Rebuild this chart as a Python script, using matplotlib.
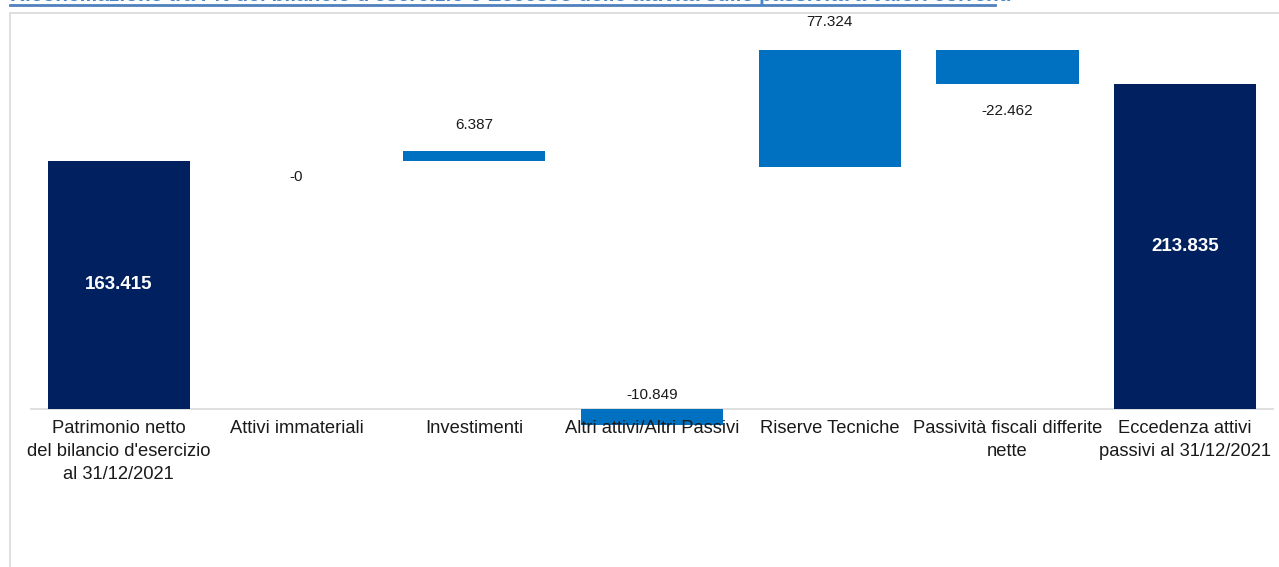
import matplotlib
matplotlib.use("Agg")
import matplotlib.pyplot as plt
from matplotlib.patches import Rectangle
from matplotlib.lines import Line2D

plt.rcParams["font.family"] = ["Liberation Sans", "DejaVu Sans"]

# --- data -------------------------------------------------------------
title = ("Riconciliazione tra PN del bilancio d'esercizio e Eccesso delle "
         "attività sulle passività a valori correnti")
categories = [
    "Patrimonio netto\ndel bilancio d'esercizio\nal 31/12/2021",
    "Attivi immateriali",
    "Investimenti",
    "Altri attivi/Altri Passivi",
    "Riserve Tecniche",
    "Passività fiscali differite\nnette",
    "Eccedenza attivi\npassivi al 31/12/2021",
]
values = [163.415, -0.0, 6.387, -10.849, 77.324, -22.462, 213.835]
value_labels = ["163.415", "-0", "6.387", "-10.849", "77.324", "-22.462", "213.835"]
is_total = [True, False, False, False, False, False, True]
# this step bar hangs from the axis instead of the running total
from_axis = [False, False, False, True, False, False, False]

# --- style ------------------------------------------------------------
NAVY = "#002060"
BLUE = "#0070C0"
GRID = "#D9D9D9"
# label offsets (points): positive -> above bar top, negative -> below bar bottom
label_offsets_pt = [0, -11.5, 19, 10, 20, -19.5, 0]

W, H = 1279, 567
fig = plt.figure(figsize=(W / 100, H / 100), dpi=100)
fig.patch.set_facecolor("white")

ax = fig.add_axes([30 / W, (H - 439.4) / H, (1274 - 30) / W, (439.4 - 29) / H])
ax.set_xlim(-0.5, len(categories) - 0.5)
ax.set_ylim(-20, 250)
ax.axis("off")

# baseline
ax.axhline(0, color=GRID, lw=1.2, zorder=1)

running = 0.0
for i, (v, tot, fa) in enumerate(zip(values, is_total, from_axis)):
    if tot:
        bottom, height = 0.0, v
        running = v
        color = NAVY
    else:
        bottom = 0.0 if fa else running
        height = v
        running += v
        color = BLUE
    ax.bar(i, height, bottom=bottom, width=0.8, color=color,
           edgecolor="none", zorder=2)

    top = max(bottom, bottom + height)
    low = min(bottom, bottom + height)
    if tot:
        ax.text(i, height / 2, value_labels[i], ha="center", va="center",
                color="white", fontsize=13.5, fontweight="bold", zorder=4)
    else:
        off = label_offsets_pt[i]
        anchor = top if off >= 0 else low
        ax.annotate(value_labels[i], (i, anchor), xytext=(0, off),
                    textcoords="offset points", ha="center", va="center",
                    fontsize=11, color="#1a1a1a", zorder=4)

# category labels under the baseline
for i, cat in enumerate(categories):
    ax.annotate(cat, (i, 0), xytext=(0, -8), textcoords="offset points",
                ha="center", va="top", multialignment="center",
                fontsize=13.2, color="#1a1a1a", linespacing=1.45, zorder=5,
                annotation_clip=False)

# chart frame
fig.add_artist(Rectangle((10 / W, -0.02), 1.0, (H - 13) / H + 0.02,
                         transform=fig.transFigure, fill=False,
                         edgecolor=GRID, lw=1.2))

# heading (runs off the top edge) with its underline
fig.text(10 / W, 1 - 1.0 / H, title, ha="left", va="baseline",
         color="#4A86C8", fontsize=15, fontweight="bold")
fig.add_artist(Line2D([10 / W, 995 / W], [1 - 5 / H, 1 - 5 / H],
                      transform=fig.transFigure, color="#4F81BD", lw=2.0))

fig.savefig("out.png", dpi=100, facecolor="white")
